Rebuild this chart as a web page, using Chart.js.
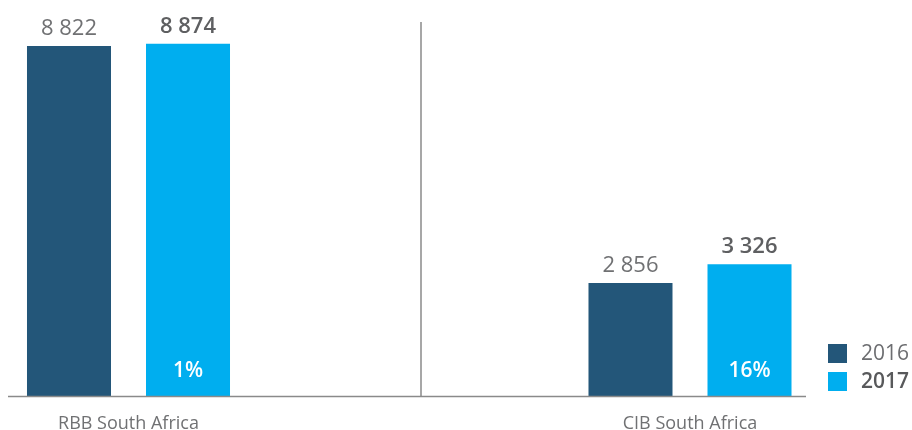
<!DOCTYPE html>
<html lang="en">
<head>
<meta charset="UTF-8" />
<title>RBB / CIB South Africa</title>
<script src="https://cdn.jsdelivr.net/npm/chart.js@4.4.1/dist/chart.umd.min.js"></script>
<style>
  html, body { margin: 0; padding: 0; background: #fff; }
  #wrap { width: 912px; height: 430px; position: relative; }
</style>
</head>
<body>
<div id="wrap"><canvas id="myChart"></canvas></div>
<script>
// data
const categories = ['RBB South Africa', 'CIB South Africa'];
const years = ['2016', '2017'];
const values2016 = [8822, 2856];
const values2017 = [8874, 3326];
const growth = ['1%', '16%'];

const DARK = '#235679';
const CYAN = '#00aeef';
const FONT = '"Open Sans", "Noto Sans", sans-serif';

// 8822 -> "8 822"
function fmt(n) {
  return String(n).replace(/\B(?=(\d{3})+(?!\d))/g, ' ');
}

// base line + divider between the two groups
const frame = {
  id: 'frame',
  afterDatasetsDraw(chart) {
    const c = chart.ctx, a = chart.chartArea;
    c.save();
    c.strokeStyle = '#8a8a8a';
    c.lineWidth = 1.5;
    c.beginPath();
    c.moveTo(8, a.bottom);
    c.lineTo(806, a.bottom);
    c.moveTo(421, 22);
    c.lineTo(421, a.bottom);
    c.stroke();
    c.restore();
  }
};

// numbers above the bars, % change inside the 2017 bars
const valueLabels = {
  id: 'valueLabels',
  afterDatasetsDraw(chart) {
    const c = chart.ctx;
    c.save();
    c.textAlign = 'center';
    c.textBaseline = 'alphabetic';
    chart.data.datasets.forEach((ds, di) => {
      chart.getDatasetMeta(di).data.forEach((bar, i) => {
        c.fillStyle = di ? '#5e5f61' : '#707173';
        c.font = (di ? '600 ' : '400 ') + '22px ' + FONT;
        c.fillText(fmt(ds.data[i]), bar.x, bar.y - 11);
        if (di === 1) {
          c.fillStyle = '#ffffff';
          c.font = '600 21px ' + FONT;
          c.fillText(growth[i], bar.x, chart.chartArea.bottom - 19);
        }
      });
    });
    c.restore();
  }
};

// legend bottom right, 2017 in bold
const legendBox = {
  id: 'legendBox',
  afterDraw(chart) {
    const c = chart.ctx;
    c.save();
    c.textAlign = 'left';
    c.textBaseline = 'middle';
    chart.data.datasets.forEach((ds, i) => {
      const y = 344 + i * 28;
      c.fillStyle = ds.backgroundColor;
      c.fillRect(828, y, 19, 19);
      c.fillStyle = i ? '#58595b' : '#6d6e71';
      c.font = (i ? '600 ' : '400 ') + '21px ' + FONT;
      c.fillText(ds.label, 861, y + 10);
    });
    c.restore();
  }
};

const ctx = document.getElementById('myChart').getContext('2d');
const myChart = new Chart(ctx, {
  type: 'bar',
  data: {
    labels: categories,
    datasets: [
      { label: years[0], data: values2016, backgroundColor: DARK, clip: false },
      { label: years[1], data: values2017, backgroundColor: CYAN, clip: false }
    ]
  },
  options: {
    responsive: true,
    maintainAspectRatio: false,
    animation: false,
    categoryPercentage: 0.4239,
    barPercentage: 0.7059,
    layout: { padding: { left: 128.5, right: 222, top: 19, bottom: -22 } },
    plugins: {
      legend: { display: false },
      tooltip: { enabled: false }
    },
    scales: {
      x: {
        offset: false,
        grid: { display: false, drawTicks: false },
        border: { display: false },
        ticks: {
          color: '#707173',
          font: { family: FONT, size: 18 },
          padding: 17,
          maxRotation: 0,
          autoSkip: false
        }
      },
      y: {
        display: false,
        min: 0,
        max: 9500
      }
    }
  },
  plugins: [frame, valueLabels, legendBox]
});
</script>
</body>
</html>
